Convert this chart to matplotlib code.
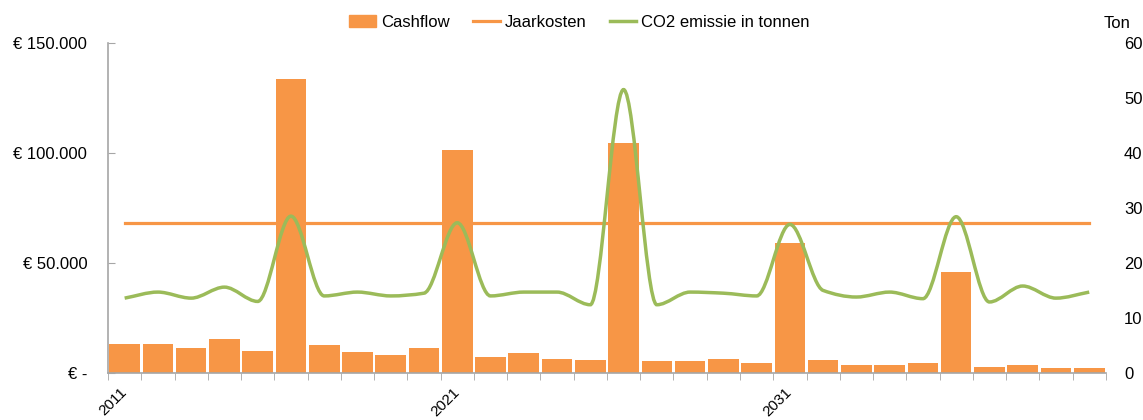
import numpy as np
import matplotlib.pyplot as plt
import matplotlib.transforms as mtransforms
from matplotlib.path import Path
from matplotlib.patches import PathPatch
from matplotlib.lines import Line2D
from matplotlib.ticker import FuncFormatter

plt.rcParams['font.family'] = ['Liberation Sans', 'DejaVu Sans']
plt.rcParams['font.size'] = 12

years = list(range(2011, 2041))
cashflow = [13000, 13200, 11400, 15500, 10000, 133600, 12700, 9500, 8200, 11400,
            101400, 7300, 9100, 6400, 5900, 104500, 5500, 5500, 6400, 4500,
            59000, 5900, 3600, 3600, 4500, 45900, 2700, 3600, 2300, 2300]
jaarkosten = [68000] * len(years)
co2 = [13.6, 14.7, 13.6, 15.6, 13.0, 28.5, 14.0, 14.7, 14.0, 14.5,
       27.3, 14.0, 14.7, 14.7, 12.4, 51.5, 12.4, 14.7, 14.5, 14.0,
       27.0, 15.0, 13.8, 14.7, 13.5, 28.4, 12.9, 15.8, 13.6, 14.7]
tick_years = [2011, 2021, 2031]

orange = '#F79646'
green = '#9BBB59'
grey = '#A6A6A6'


def euro(v, pos):
    if v == 0:
        return '€ -'
    return '€ ' + f'{int(v):,}'.replace(',', '.')


def smooth_path(xs, ys):
    # smoothed line drawn as cubic Bezier segments, flat tangent at local extremes
    xs = np.asarray(xs, float)
    ys = np.asarray(ys, float)
    n = len(xs)
    d = np.diff(ys) / np.diff(xs)
    m = np.zeros(n)
    m[0], m[-1] = d[0], d[-1]
    for i in range(1, n - 1):
        if d[i - 1] * d[i] > 0:
            m[i] = 2.0 / (1.0 / d[i - 1] + 1.0 / d[i])
    verts = [(xs[0], ys[0])]
    codes = [Path.MOVETO]
    for i in range(n - 1):
        h = xs[i + 1] - xs[i]
        verts += [(xs[i] + h / 3, ys[i] + m[i] * h / 3),
                  (xs[i + 1] - h / 3, ys[i + 1] - m[i + 1] * h / 3),
                  (xs[i + 1], ys[i + 1])]
        codes += [Path.CURVE4] * 3
    return Path(verts, codes)


fig = plt.figure(figsize=(11.43, 4.2), dpi=100)
ax = fig.add_axes([0.0945, 0.112, 0.873, 0.786])
x = np.arange(len(years))

ax.bar(x, cashflow, width=0.92, color=orange, zorder=2)
ax.plot(x, jaarkosten, color=orange, lw=2.3, zorder=3)
ax.set_xlim(-0.5, len(years) - 0.5)
ax.set_ylim(0, 150000)
ax.set_yticks([0, 50000, 100000, 150000])
ax.yaxis.set_major_formatter(FuncFormatter(euro))

ax.set_xticks(np.arange(-0.5, len(years), 1), minor=True)
ax.set_xticks([years.index(t) for t in tick_years])
ax.set_xticklabels([str(t) for t in tick_years], rotation=45, ha='right',
                   rotation_mode='anchor', fontsize=11)
ax.tick_params(axis='x', which='major', length=0, pad=9)
ax.tick_params(axis='x', which='minor', length=5, color=grey, direction='out')
ax.tick_params(axis='y', length=5, color=grey, direction='in', pad=15)
shift = mtransforms.ScaledTranslation(-5 / 100, 0, fig.dpi_scale_trans)
for lab in ax.get_xticklabels():
    lab.set_transform(lab.get_transform() + shift)

for s in ['top', 'right']:
    ax.spines[s].set_visible(False)
for s in ['left', 'bottom']:
    ax.spines[s].set_color(grey)
    ax.spines[s].set_linewidth(1.2)

ax2 = ax.twinx()
ax2.set_ylim(0, 60)
ax2.set_yticks(range(0, 61, 10))
ax2.tick_params(axis='y', length=0, pad=13)
for s in ax2.spines.values():
    s.set_visible(False)
ax2.add_patch(PathPatch(smooth_path(x, co2), facecolor='none', edgecolor=green,
                        lw=2.5, zorder=4))
ax2.text(0.998, 1.035, 'Ton', transform=ax2.transAxes, ha='left', va='bottom')

handles = [plt.Rectangle((0, 0), 1, 1, color=orange),
           Line2D([0], [0], color=orange, lw=2.3),
           Line2D([0], [0], color=green, lw=2.5)]
fig.legend(handles, ['Cashflow', 'Jaarkosten', 'CO2 emissie in tonnen'],
           loc='upper center', bbox_to_anchor=(0.507, 1.0), ncol=3, frameon=False,
           handlelength=1.6, handletextpad=0.3, columnspacing=1.4)

fig.savefig('out.png', dpi=100)
